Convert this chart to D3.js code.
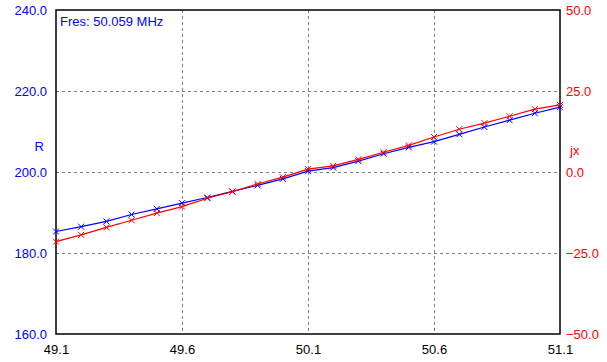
<!DOCTYPE html>
<html>
<head>
<meta charset="utf-8">
<script src="https://cdn.jsdelivr.net/npm/d3@7"></script>
<style>
  body { margin: 0; background: #fff; }
  svg text { font-family: "Liberation Sans", Arial, sans-serif; font-size: 13px; }
</style>
</head>
<body>
<div class="chart"></div>
<script>
// frequency points (MHz)
const freqs = [49.1, 49.2, 49.3, 49.4, 49.5, 49.6, 49.7, 49.8, 49.9, 50.0,
  50.1, 50.2, 50.3, 50.4, 50.5, 50.6, 50.7, 50.8, 50.9, 51.0, 51.1];
// resistance R (left axis)
const rValues = [185.3, 186.5, 187.8, 189.5, 190.9, 192.3, 193.7, 195.2, 196.7, 198.3,
  200.2, 201.1, 202.7, 204.5, 206.1, 207.5, 209.3, 211.1, 212.8, 214.5, 216.0];
// reactance jx (right axis)
const jxValues = [-21.5, -19.4, -17.1, -14.9, -12.7, -10.7, -8.1, -6.1, -3.7, -1.6,
  0.9, 1.9, 3.9, 6.1, 8.2, 10.8, 13.2, 15.1, 17.2, 19.4, 20.7];

const xTicks = [49.1, 49.6, 50.1, 50.6, 51.1];
const rTicks = [160, 180, 200, 220, 240];
const jxTicks = [-50, -25, 0, 25, 50];
const fresLabel = 'Fres: 50.059 MHz';

const svgWidth = 607;
const svgHeight = 362;
const margin = { top: 10, right: 47, bottom: 28, left: 56 };
const width = svgWidth - margin.left - margin.right;
const height = svgHeight - margin.top - margin.bottom;

const xScale = d3.scaleLinear().domain([49.1, 51.1]).range([0, width]);
const rScale = d3.scaleLinear().domain([160, 240]).range([height, 0]);
const jxScale = d3.scaleLinear().domain([-50, 50]).range([height, 0]);

const svg = d3.select('.chart').append('svg')
  .attr('width', svgWidth)
  .attr('height', svgHeight)
  .append('g')
  .attr('transform', `translate(${margin.left}, ${margin.top})`);

// dashed grid
svg.append('g')
  .selectAll('line')
  .data(xTicks.slice(1, -1))
  .enter().append('line')
  .attr('x1', (d) => Math.round(xScale(d)) + 0.5)
  .attr('x2', (d) => Math.round(xScale(d)) + 0.5)
  .attr('y1', 0)
  .attr('y2', height)
  .attr('stroke', '#808080')
  .attr('stroke-dasharray', '3,3');

svg.append('g')
  .selectAll('line')
  .data(rTicks.slice(1, -1))
  .enter().append('line')
  .attr('x1', 0)
  .attr('x2', width)
  .attr('y1', (d) => Math.round(rScale(d)) + 0.5)
  .attr('y2', (d) => Math.round(rScale(d)) + 0.5)
  .attr('stroke', '#808080')
  .attr('stroke-dasharray', '3,3');

// axes (tick labels only, frame drawn separately)
const xAxis = svg.append('g')
  .attr('transform', `translate(0, ${height})`)
  .call(d3.axisBottom(xScale).tickValues(xTicks).tickFormat(d3.format('.1f')).tickSize(0).tickPadding(11));

const leftAxis = svg.append('g')
  .call(d3.axisLeft(rScale).tickValues(rTicks).tickFormat(d3.format('.1f')).tickSize(0).tickPadding(9));

const rightAxis = svg.append('g')
  .attr('transform', `translate(${width}, 0)`)
  .call(d3.axisRight(jxScale).tickValues(jxTicks).tickFormat(d3.format('.1f')).tickSize(0).tickPadding(6));

[xAxis, leftAxis, rightAxis].forEach((a) => {
  a.select('.domain').remove();
  a.selectAll('text').style('font-size', '13px').style('font-family', '"Liberation Sans", Arial, sans-serif');
});
xAxis.selectAll('text').attr('fill', '#000');
leftAxis.selectAll('text').attr('fill', '#0000ff');
rightAxis.selectAll('text').attr('fill', '#ff0000');

// frame
svg.append('rect')
  .attr('x', 0)
  .attr('y', 0)
  .attr('width', width)
  .attr('height', height)
  .attr('fill', 'none')
  .attr('stroke', '#000')
  .attr('stroke-width', 1.5);

// axis titles
svg.append('text')
  .attr('x', -12)
  .attr('y', rScale(206.4))
  .attr('text-anchor', 'end')
  .attr('dy', '0.35em')
  .attr('fill', '#0000ff')
  .text('R');

svg.append('text')
  .attr('x', width + 10)
  .attr('y', jxScale(6.8))
  .attr('dy', '0.35em')
  .attr('fill', '#ff0000')
  .text('jx');

svg.append('text')
  .attr('x', 4)
  .attr('y', 16)
  .attr('fill', '#0000ff')
  .text(fresLabel);

function addSeries(values, scale, color) {
  const line = d3.line()
    .x((d, i) => xScale(freqs[i]))
    .y((d) => scale(d));

  svg.append('path')
    .datum(values)
    .attr('fill', 'none')
    .attr('stroke', color)
    .attr('stroke-width', 1.2)
    .attr('d', line);

  const s = 3;
  svg.append('g')
    .selectAll('path')
    .data(values)
    .enter().append('path')
    .attr('d', (d, i) => {
      const x = xScale(freqs[i]);
      const y = scale(d);
      return `M${x - s},${y - s}L${x + s},${y + s}M${x - s},${y + s}L${x + s},${y - s}`;
    })
    .attr('stroke', color)
    .attr('stroke-width', 1);
}

addSeries(rValues, rScale, '#0000ff');
addSeries(jxValues, jxScale, '#ff0000');
</script>
</body>
</html>
